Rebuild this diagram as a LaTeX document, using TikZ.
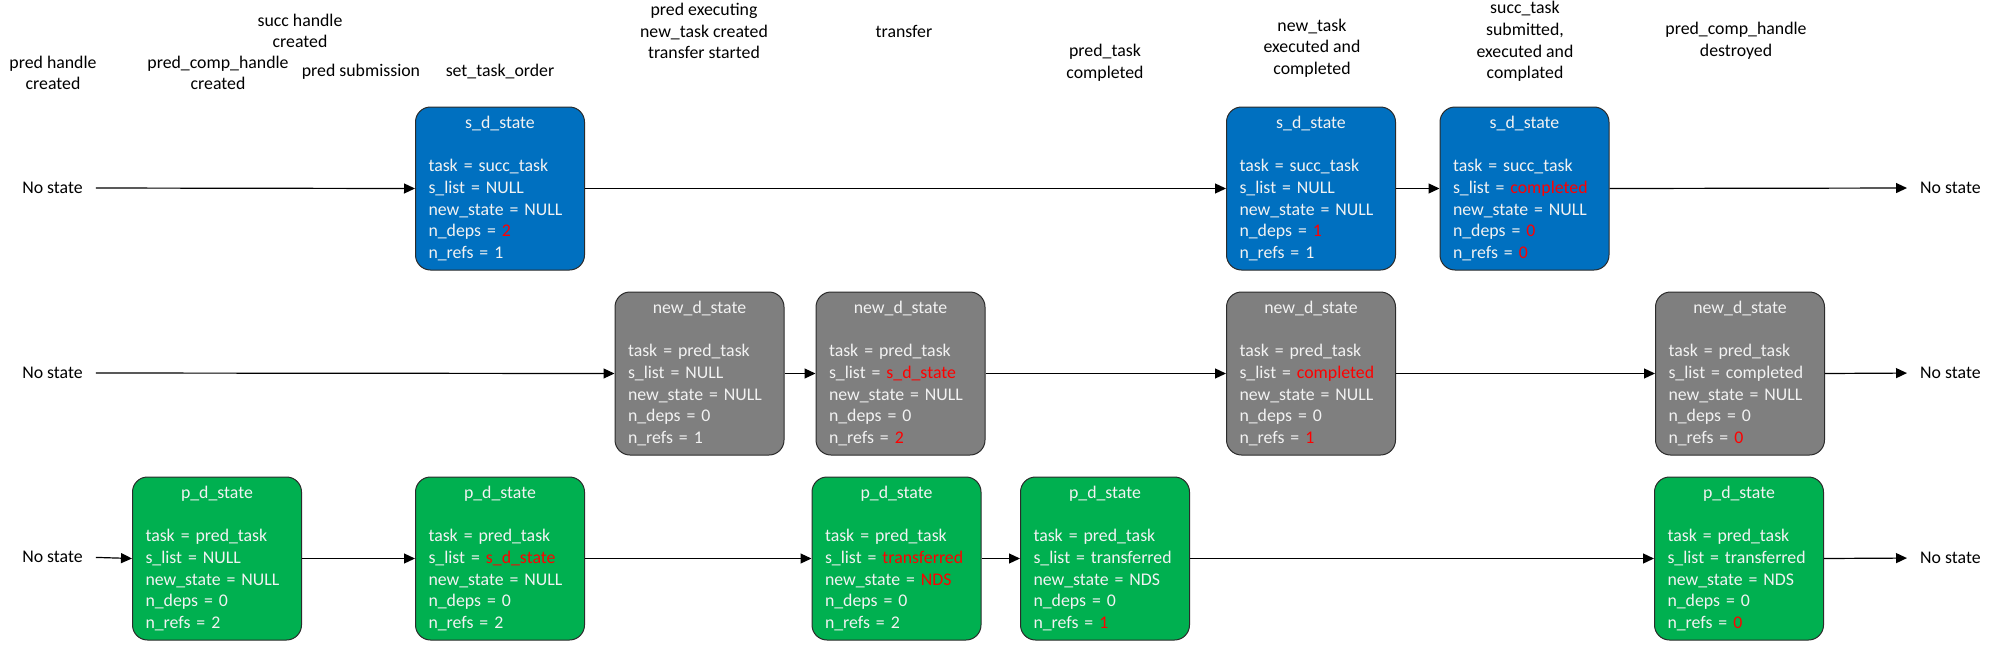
\documentclass[tikz,border=0pt]{standalone}
\usepackage{fontspec}
\setmainfont{Carlito}
\usetikzlibrary{arrows.meta}
\definecolor{sblue}{HTML}{0070C0}
\definecolor{ngray}{HTML}{7F7F7F}
\definecolor{pgreen}{HTML}{00B050}
\definecolor{bord}{HTML}{2B2B2B}
\definecolor{txtw}{HTML}{F2F2F2}
\definecolor{rdc}{HTML}{FF0000}
\tikzset{
 sbox/.style={draw=bord, line width=1pt, rounded corners=15pt, fill=#1, text=txtw,
   minimum width=169pt, minimum height=163pt, text width=143pt, inner xsep=13pt,
   inner ysep=0pt, align=left, font=\fontsize{17.8}{21.7}\selectfont},
 lbl/.style={align=center, font=\fontsize{17.8}{21.7}\selectfont, inner sep=0pt},
 arr/.style={-{Triangle[length=11pt,width=10pt]}, line width=1.2pt},
}
\newcommand\rd[1]{\textcolor{rdc}{#1}}
\newcommand\ttl[1]{\makebox[\linewidth][c]{#1}}
\begin{document}
\begin{tikzpicture}[x=1pt,y=-1pt]
\useasboundingbox (0,0) rectangle (2008,656);
% top labels
\node[lbl] (t1) at (53,73) {pred handle\\created};
\node[lbl] (t2) at (218,73) {pred\_comp\_handle\\created};
\node[lbl] (t3) at (300,31) {succ handle\\created};
\node[lbl] (t4) at (361,72) {pred submission};
\node[lbl] (t5) at (500,72) {set\_task\_order};
\node[lbl] (t6) at (704,31) {pred executing\\new\_task created\\transfer started};
\node[lbl] (t7) at (904,31) {transfer};
\node[lbl] (t8) at (1105,63) {pred\_task\\completed};
\node[lbl] (t9) at (1312,48) {new\_task\\executed and\\completed};
\node[lbl] (t10) at (1525,41.5) {succ\_task\\submitted,\\executed and\\complated};
\node[lbl] (t11) at (1736,41) {pred\_comp\_handle\\destroyed};
% side labels
\node[lbl] (l1) at (52.5,188) {No state};
\node[lbl] (l2) at (52.5,373) {No state};
\node[lbl] (l3) at (52.5,557) {No state};
\node[lbl,anchor=west] (r1) at (1920,188) {No state};
\node[lbl,anchor=west] (r2) at (1920,373) {No state};
\node[lbl,anchor=west] (r3) at (1920,558) {No state};
% row 1
\node[sbox=sblue] (s1) at (500,188.5) {\ttl{s\_d\_state}\\[21.7pt]task = succ\_task\\s\_list = NULL\\new\_state = NULL\\n\_deps = \rd{2}\\n\_refs = 1};
\node[sbox=sblue] (s2) at (1311,188.5) {\ttl{s\_d\_state}\\[21.7pt]task = succ\_task\\s\_list = NULL\\new\_state = NULL\\n\_deps = \rd{1}\\n\_refs = 1};
\node[sbox=sblue] (s3) at (1524.5,188.5) {\ttl{s\_d\_state}\\[21.7pt]task = succ\_task\\s\_list = \rd{completed}\\new\_state = NULL\\n\_deps = \rd{0}\\n\_refs = \rd{0}};
% row 2
\node[sbox=ngray] (n1) at (699.5,373.5) {\ttl{new\_d\_state}\\[21.7pt]task = pred\_task\\s\_list = NULL\\new\_state = NULL\\n\_deps = 0\\n\_refs = 1};
\node[sbox=ngray] (n2) at (900.5,373.5) {\ttl{new\_d\_state}\\[21.7pt]task = pred\_task\\s\_list = \rd{s\_d\_state}\\new\_state = NULL\\n\_deps = 0\\n\_refs = \rd{2}};
\node[sbox=ngray] (n3) at (1311,373.5) {\ttl{new\_d\_state}\\[21.7pt]task = pred\_task\\s\_list = \rd{completed}\\new\_state = NULL\\n\_deps = 0\\n\_refs = \rd{1}};
\node[sbox=ngray] (n4) at (1740,373.5) {\ttl{new\_d\_state}\\[21.7pt]task = pred\_task\\s\_list = completed\\new\_state = NULL\\n\_deps = 0\\n\_refs = \rd{0}};
% row 3
\node[sbox=pgreen] (p1) at (217,558.5) {\ttl{p\_d\_state}\\[21.7pt]task = pred\_task\\s\_list = NULL\\new\_state = NULL\\n\_deps = 0\\n\_refs = 2};
\node[sbox=pgreen] (p2) at (500,558.5) {\ttl{p\_d\_state}\\[21.7pt]task = pred\_task\\s\_list = \rd{s\_d\_state}\\new\_state = NULL\\n\_deps = 0\\n\_refs = 2};
\node[sbox=pgreen] (p3) at (896.5,558.5) {\ttl{p\_d\_state}\\[21.7pt]task = pred\_task\\s\_list = \rd{transferred}\\new\_state = \rd{NDS}\\n\_deps = 0\\n\_refs = 2};
\node[sbox=pgreen] (p4) at (1105,558.5) {\ttl{p\_d\_state}\\[21.7pt]task = pred\_task\\s\_list = transferred\\new\_state = NDS\\n\_deps = 0\\n\_refs = \rd{1}};
\node[sbox=pgreen] (p5) at (1739,558.5) {\ttl{p\_d\_state}\\[21.7pt]task = pred\_task\\s\_list = transferred\\new\_state = NDS\\n\_deps = 0\\n\_refs = \rd{0}};
% arrows
\draw[arr,shorten <=13pt] (l1.east) -- (s1.west);
\draw[arr] (s1.east) -- (s2.west);
\draw[arr] (s2.east) -- (s3.west);
\draw[arr,shorten >=13pt] (s3.east) -- (r1.west);
\draw[arr,shorten <=13pt] (l2.east) -- (n1.west);
\draw[arr] (n1.east) -- (n2.west);
\draw[arr] (n2.east) -- (n3.west);
\draw[arr] (n3.east) -- (n4.west);
\draw[arr,shorten >=13pt] (n4.east) -- (r2.west);
\draw[arr,shorten <=13pt] (l3.east) -- (p1.west);
\draw[arr] (p1.east) -- (p2.west);
\draw[arr] (p2.east) -- (p3.west);
\draw[arr] (p3.east) -- (p4.west);
\draw[arr] (p4.east) -- (p5.west);
\draw[arr,shorten >=13pt] (p5.east) -- (r3.west);
\end{tikzpicture}
\end{document}
